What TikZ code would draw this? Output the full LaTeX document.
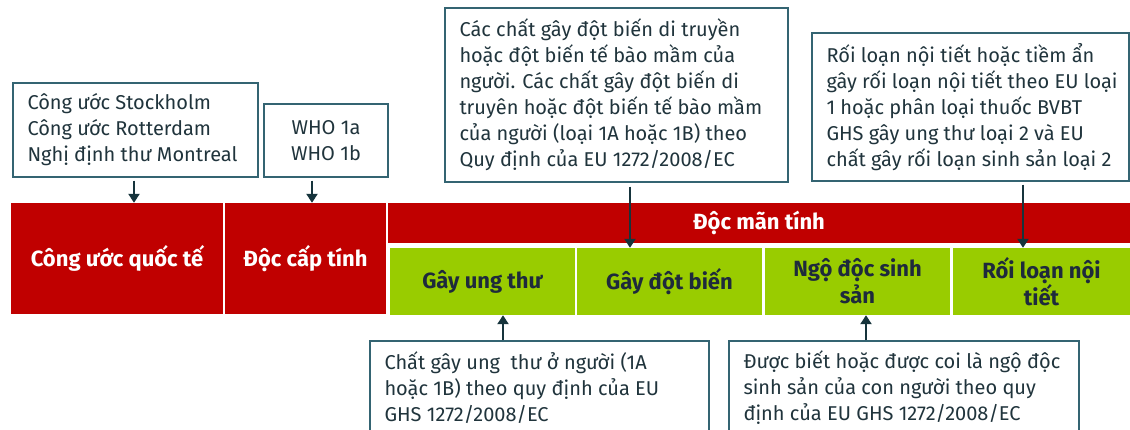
\documentclass[tikz,border=0pt]{standalone}
\usepackage{fontspec}
\setmainfont{Fira Sans}
\usetikzlibrary{arrows.meta}
\definecolor{cred}{HTML}{C00000}
\definecolor{cgreen}{HTML}{99CC00}
\definecolor{cborder}{RGB}{52,100,114}
\definecolor{ctext}{RGB}{32,52,60}
\definecolor{carrow}{RGB}{22,52,60}
\definecolor{cnavy}{RGB}{30,42,60}
\tikzset{
  redbox/.style={fill=cred, inner sep=0pt, text=white, font=\bfseries\fontsize{22}{26}\selectfont, align=center},
  greenbox/.style={fill=cgreen, inner sep=0pt, text=cnavy, font=\bfseries\fontsize{22}{27}\selectfont, align=center},
  infobox/.style={draw=cborder, line width=1.4pt, fill=white, inner sep=0pt},
  infotext/.style={anchor=west, inner sep=0pt, text=ctext, align=left, font=\fontsize{20}{26}\selectfont},
  arr/.style={draw=carrow, line width=2.6pt, -{Triangle[length=9pt,width=11pt]}}
}
\begin{document}
\begin{tikzpicture}[x=1pt,y=-1pt]
\useasboundingbox (0,0) rectangle (1130,429);
\clip (0,0) rectangle (1130,429);
\fill[white] (0,0) rectangle (1130,429);

% red and green bars
\node[redbox, minimum width=212pt, minimum height=111pt] (cuoc) at (117,258.5) {Công ước quốc tế};
\node[redbox, minimum width=161pt, minimum height=111pt] (cap) at (305.5,258.5) {Độc cấp tính};
\node[redbox, minimum width=742pt, minimum height=40pt] (man) at (759,223) {Độc mãn tính};
\node[greenbox, minimum width=185pt, minimum height=67pt] (g1) at (482.5,281.5) {Gây ung thư};
\node[greenbox, minimum width=185pt, minimum height=67pt] (g2) at (669.5,281.5) {Gây đột biến};
\node[greenbox, minimum width=185pt, minimum height=67pt] (g3) at (857.5,281.5) {Ngộ độc sinh\\sản};
\node[greenbox, minimum width=177pt, minimum height=67pt] (g4) at (1041.5,281.5) {Rối loạn nội\\tiết};

% info boxes
\node[infobox, minimum width=245pt, minimum height=94pt] (b1) at (135.5,130) {};
\node[infotext] (t1) at ([xshift=15pt]b1.west) {Công ước Stockholm\\Công ước Rotterdam\\Nghị định thư Montreal};
\node[infobox, minimum width=124pt, minimum height=73pt, text=ctext, align=center, font=\fontsize{20}{26}\selectfont] (b2) at (326,140.5) {WHO 1a\\WHO 1b};
\node[infobox, minimum width=343pt, minimum height=174pt] (b3) at (616.5,95) {};
\node[infotext] (t3) at ([xshift=15pt]b3.west) {Các chất gây đột biến di truyền\\hoặc đột biến tế bào mầm của\\người. Các chất gây đột biến di\\truyên hoặc đột biến tế bào mầm\\của người (loại 1A hoặc 1B) theo\\Quy định của EU 1272/2008/EC};
\node[infobox, minimum width=317pt, minimum height=148pt] (b4) at (970.5,107) {};
\node[infotext] (t4) at ([xshift=15pt]b4.west) {Rối loạn nội tiết hoặc tiềm ẩn\\gây rối loạn nội tiết theo EU loại\\1 hoặc phân loại thuốc BVBT\\GHS gây ung thư loại 2 và EU\\chất gây rối loạn sinh sản loại 2};
\node[infobox, minimum width=339pt, minimum height=94pt] (c1) at (539.5,388) {};
\node[infotext] (s1) at ([xshift=15pt]c1.west) {Chất gây ung~ thư ở người (1A\\hoặc 1B) theo quy định của EU\\GHS 1272/2008/EC};
\node[infobox, minimum width=350pt, minimum height=94pt] (c2) at (904,388) {};
\node[infotext] (s2) at ([xshift=15pt]c2.west) {Được biết hoặc được coi là ngộ độc\\sinh sản của con người theo quy\\định của EU GHS 1272/2008/EC};

% arrows
\draw[arr] ([xshift=-1.5pt,yshift=-3pt]b1.south) -- ([xshift=17pt]cuoc.north);
\draw[arr] ([xshift=-14pt,yshift=-3pt]b2.south) -- ([xshift=6.5pt]cap.north);
\draw[arr] ([xshift=13.5pt,yshift=-4pt]b3.south) -- ([xshift=-39.5pt]g2.north);
\draw[arr] ([xshift=52.5pt,yshift=-3pt]b4.south) -- ([xshift=-18.5pt]g4.north);
\draw[arr] ([xshift=-36.5pt]c1.north) -- ([xshift=20.5pt]g1.south);
\draw[arr] ([xshift=-38pt]c2.north) -- ([xshift=8.5pt]g3.south);
\end{tikzpicture}
\end{document}
